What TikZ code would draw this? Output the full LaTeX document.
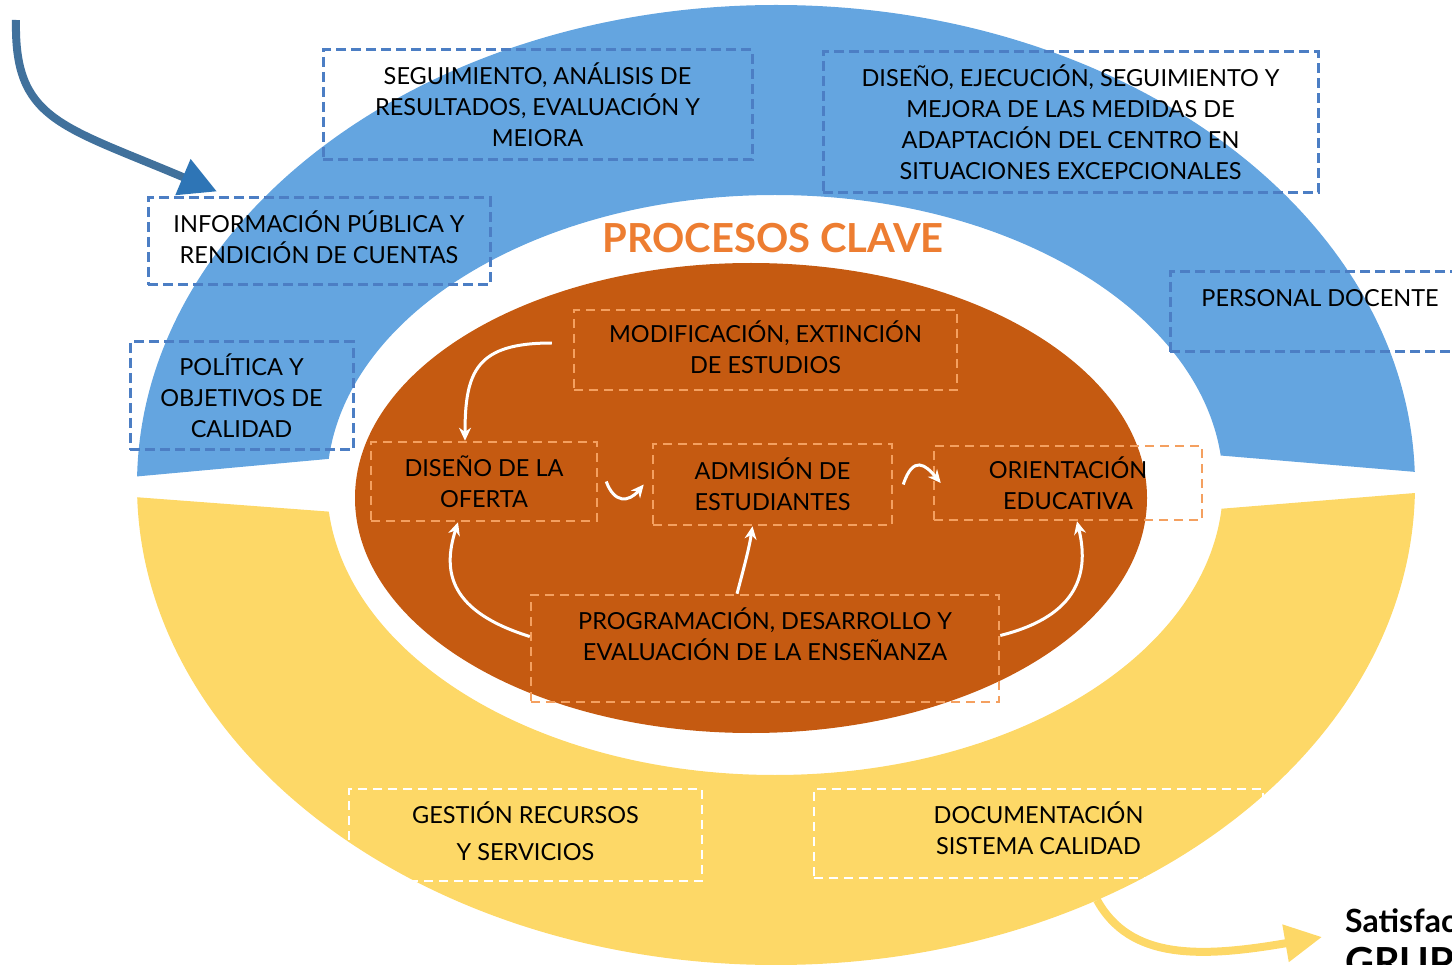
\documentclass[tikz,border=0pt]{standalone}
\usepackage{fontspec}
\setmainfont{Lato}
\usetikzlibrary{arrows.meta}
\definecolor{anillo}{RGB}{100,165,224}
\definecolor{borde}{RGB}{76,126,196}
\definecolor{amarillo}{RGB}{253,216,103}
\definecolor{centro}{RGB}{197,90,17}
\definecolor{naranja}{RGB}{244,160,96}
\definecolor{rotulo}{RGB}{237,125,49}
\definecolor{flechaazul}{RGB}{65,113,156}
\definecolor{puntaazul}{RGB}{46,117,182}
\tikzstyle{caja} = [rectangle, align=center, inner sep=0pt, font=\fontsize{23.5}{31}\selectfont]
\tikzstyle{estrategico} = [caja, draw=borde, line width=3pt, dash pattern=on 10pt off 5pt]
\tikzstyle{clave} = [caja, draw=naranja, line width=2.5pt, dash pattern=on 9pt off 6pt]
\tikzstyle{soporte} = [caja, draw=white, line width=2.5pt, dash pattern=on 9pt off 6pt]
\tikzstyle{flecha} = [white, line width=3pt, -{Stealth[length=13pt,width=12pt]}]
\begin{document}
\begin{tikzpicture}[x=1pt,y=-1pt]
  \useasboundingbox (0,0) rectangle (1452,965);

  % anillos
  \begin{scope}
    \clip (775,418) -- (0,489) -- (0,0) -- (1452,0) -- (1452,475) -- cycle;
    \fill[anillo, even odd rule] (776,485) ellipse [x radius=639pt, y radius=480pt] (775,485) ellipse [x radius=448pt, y radius=290pt];
  \end{scope}
  \begin{scope}
    \clip (775,545) -- (0,487) -- (0,965) -- (1452,965) -- (1452,490) -- cycle;
    \fill[amarillo, even odd rule] (776,485) ellipse [x radius=639pt, y radius=480pt] (775,485) ellipse [x radius=448pt, y radius=290pt];
  \end{scope}
  \fill[centro] (751,498) ellipse [x radius=396pt, y radius=235pt];

  \node (titulo) [font=\fontsize{40}{42}\selectfont\bfseries, text=rotulo] at (773,238) {PROCESOS CLAVE};

  \node (seguimiento) [estrategico, minimum width=429pt, minimum height=110pt] at (537.5,105) {SEGUIMIENTO, ANÁLISIS DE\\RESULTADOS, EVALUACIÓN Y\\MEIORA};
  \node (medidas) [estrategico, minimum width=495pt, minimum height=141pt] at (1070.5,122.5) {DISEÑO, EJECUCIÓN, SEGUIMIENTO Y\\MEJORA DE LAS MEDIDAS DE\\ADAPTACIÓN DEL CENTRO EN\\SITUACIONES EXCEPCIONALES};
  \node (informacion) [estrategico] at (319,241.5) {\parbox[c][87pt][t]{342pt}{\centering\vspace{13pt}INFORMACIÓN PÚBLICA Y\\RENDICIÓN DE CUENTAS}};
  \node (politica) [estrategico, minimum width=223pt, minimum height=108pt] at (241.5,396) {POLÍTICA Y\\OBJETIVOS DE\\CALIDAD};
  \node (personal) [estrategico] at (1320,312) {\parbox[c][80pt][t]{300pt}{\centering\vspace{17pt}PERSONAL DOCENTE}};

  \node (modificacion) [clave] at (765.5,350) {\parbox[c][80pt][t]{383pt}{\centering\vspace{11pt}MODIFICACIÓN, EXTINCIÓN\\DE ESTUDIOS}};
  \node (oferta) [clave, minimum width=226pt, minimum height=79pt] at (484,481.5) {DISEÑO DE LA\\OFERTA};
  \node (admision) [clave, minimum width=239pt, minimum height=81pt] at (772.5,484.5) {ADMISIÓN DE\\ESTUDIANTES};
  \node (orientacion) [clave, minimum width=268pt, minimum height=74pt] at (1068,483) {ORIENTACIÓN\\EDUCATIVA};
  \node (programacion) [clave] at (765,648.5) {\parbox[c][107pt][t]{468pt}{\centering\vspace{13pt}PROGRAMACIÓN, DESARROLLO Y\\EVALUACIÓN DE LA ENSEÑANZA}};

  \node (recursos) [soporte] at (525.5,835) {\parbox[c][92pt][t]{353pt}{\centering\vspace{13pt}GESTIÓN RECURSOS\\[6pt]Y SERVICIOS}};
  \node (documentacion) [soporte] at (1038.5,833.5) {\parbox[c][89pt][t]{449pt}{\centering\vspace{13pt}DOCUMENTACIÓN\\SISTEMA CALIDAD}};

  \node (satisf) [anchor=base west, inner sep=0pt, font=\fontsize{32}{34}\selectfont\bfseries] at (1345,932) {Satisfac};
  \node (grupos) [anchor=base west, inner sep=0pt, font=\fontsize{40}{42}\selectfont\bfseries] at (1345,976) {GRUP};

  % flechas
  \coordinate (entrada) at (16,20);
  \coordinate (salida) at (1097,900);
  \draw [flechaazul, line width=8pt, -{Triangle[length=37pt,width=37pt,color=puntaazul]}] (entrada) .. controls (14,120) and (60,125) .. ([xshift=-102pt,yshift=5pt]informacion.north);
  \draw [amarillo, line width=8pt, -{Triangle[length=37pt,width=36pt]}] (salida) .. controls (1130,960) and (1200,958) .. ([xshift=-23pt,yshift=-5pt]satisf.base west);

  \draw [flecha] ([xshift=-21pt,yshift=7pt]modificacion.west) .. controls +(-75,0) and +(0,-70) .. ([xshift=-19pt]oferta.north);
  \draw [flecha] ([xshift=8pt]oferta.east) .. controls +(8,22) and +(-15,18) .. ([xshift=-8pt]admision.west);
  \draw [flecha] ([xshift=10pt]admision.east) .. controls +(10,-30) and +(-15,-18) .. ([xshift=8pt]orientacion.west);
  \draw [flecha] ([xshift=-28pt]programacion.north) .. controls +(8,-30) and +(-3,20) .. ([xshift=-20pt]admision.south);
  \draw [flecha] ([yshift=12pt]programacion.west) .. controls +(-80,-25) and +(-16,50) .. ([xshift=-26pt]oferta.south);
  \draw [flecha] ([yshift=13pt]programacion.east) .. controls +(80,-20) and +(12,50) .. ([xshift=9pt]orientacion.south);
\end{tikzpicture}
\end{document}
